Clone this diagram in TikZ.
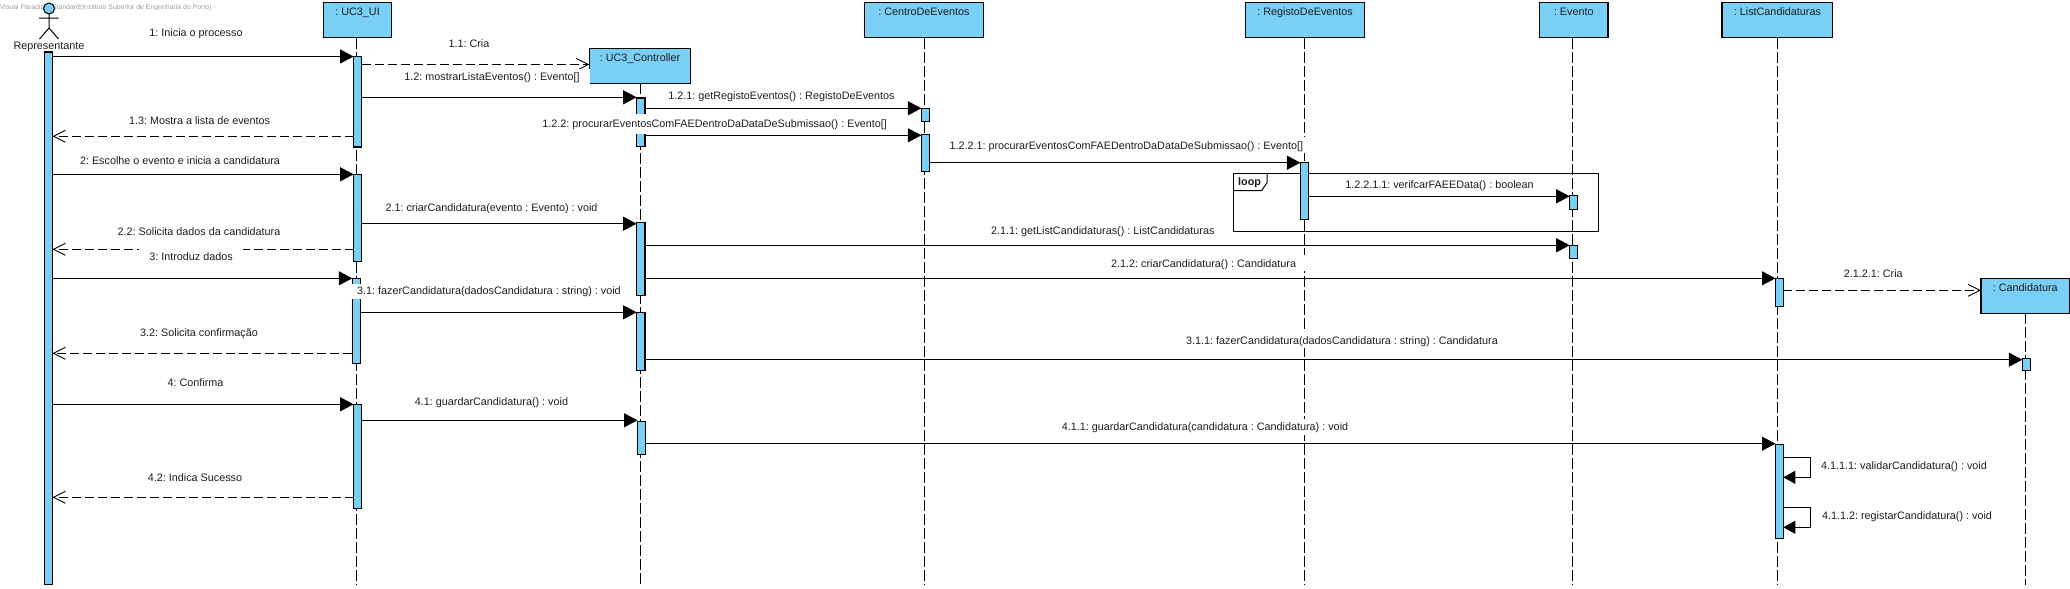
\documentclass[tikz,border=0pt]{standalone}
\usepackage{fontspec}
\setmainfont{Liberation Sans}
\frenchspacing
\usetikzlibrary{arrows.meta}
\definecolor{objblue}{RGB}{122,207,245}
\definecolor{txtc}{RGB}{30,30,30}
\tikzset{
  every node/.style={outer sep=0pt,font=\fontsize{10.8}{13}\selectfont,text=txtc},
  objbox/.style={draw=black,line width=1.2pt,fill=objblue,inner sep=0pt,text height=12.7pt,text depth=22.3pt,align=center},
  actbox/.style={draw=black,line width=1.1pt,fill=objblue,inner sep=0pt},
  lifeline/.style={draw=black,line width=1pt,dash pattern=on 11pt off 3pt},
  msg/.style={draw=black,line width=1.1pt,-{Triangle[length=13.5pt,width=14pt]}},
  selfmsg/.style={draw=black,line width=.9pt,-{Triangle[length=12pt,width=13pt]}},
  ret/.style={draw=black,line width=1.1pt,dash pattern=on 9pt off 4pt,-{Straight Barb[length=12pt,width=12pt,line width=.9pt]}},
  msglabel/.style={fill=white,inner xsep=10pt,inner ysep=0pt,minimum height=16pt,text height=8.8pt,text depth=1.2pt},
  freelabel/.style={inner sep=0pt,text height=8.8pt,text depth=1.2pt},
}
\newcommand{\actv}[5]{%
  \pgfmathsetmacro{\actcx}{(#2+#3)/2}\pgfmathsetmacro{\actcy}{(#4+#5)/2}%
  \pgfmathsetmacro{\actw}{#3-#2}\pgfmathsetmacro{\acth}{#5-#4}%
  \node[actbox,minimum width=\actw pt,minimum height=\acth pt] (#1) at (\actcx,\actcy) {};}
\begin{document}
\begin{tikzpicture}[x=1pt,y=-1pt]
\useasboundingbox (0,0) rectangle (2070,589);
% watermark
\node[inner sep=0pt,anchor=west,text=black!38,font=\fontsize{6.9}{9}\selectfont] (wm) at (0,7.5) {Visual Paradigm Standard(Instituto Superior de Engenharia do Porto)};
% actor
\node[draw=black,line width=1pt,fill=objblue,circle,inner sep=0pt,minimum size=11pt] (head) at (49,8.5) {};
\coordinate (hip) at (49,28);
\coordinate (armL) at (39,18); \coordinate (armR) at (58.5,18);
\coordinate (legL) at (39.5,39); \coordinate (legR) at (58.5,39);
\draw[line width=1pt] (head.south) -- (hip) (armL) -- (armR) (legL) -- (hip) -- (legR);
\node[freelabel] (rep) at (49,45.5) {Representante};
% objects
\node[objbox,minimum width=67.8pt] (ui) at (357.6,20) {: UC3\_UI};
\node[objbox,minimum width=101.3pt] (ctrl) at (640,65.8) {: UC3\_Controller};
\node[objbox,minimum width=119.2pt] (centro) at (923.9,20) {: CentroDeEventos};
\node[objbox,minimum width=119.2pt] (registo) at (1305.1,20) {: RegistoDeEventos};
\node[objbox,minimum width=68.5pt] (evento) at (1573.8,20) {: Evento};
\node[objbox,minimum width=110.8pt] (listc) at (1777.4,20) {: ListCandidaturas};
\node[objbox,minimum width=88.7pt] (cand) at (2025.3,295.8) {: Candidatura};
% lifelines
\coordinate (uiEnd) at (356,585);
\coordinate (ctrlEnd) at (640.6,585);
\coordinate (centroEnd) at (924.5,585);
\coordinate (registoEnd) at (1304.5,585);
\coordinate (eventoEnd) at (1572.7,585);
\coordinate (listcEnd) at (1777.3,585);
\coordinate (candEnd) at (2025.3,585);
\draw[lifeline] (uiEnd |- ui.south) -- (uiEnd);
\draw[lifeline] (ctrlEnd |- ctrl.south) -- (ctrlEnd);
\draw[lifeline] (centroEnd |- centro.south) -- (centroEnd);
\draw[lifeline] (registoEnd |- registo.south) -- (registoEnd);
\draw[lifeline] (eventoEnd |- evento.south) -- (eventoEnd);
\draw[lifeline] (listcEnd |- listc.south) -- (listcEnd);
\draw[lifeline] (candEnd |- cand.south) -- (candEnd);
% loop frame
\node[draw=black,line width=1pt,inner sep=0pt,minimum width=364.5pt,minimum height=58pt] (loopf) at (1415.75,202.3) {};
\coordinate (tabA) at (1267,173.3); \coordinate (tabB) at (1267,182.7);
\coordinate (tabC) at (1261.6,190.7); \coordinate (tabD) at (1233.5,190.7);
\draw[line width=1pt] (tabA) -- (tabB) -- (tabC) -- (tabD);
\node[freelabel,font=\fontsize{10.8}{13}\selectfont\bfseries] (looplbl) at (1249.6,181.2) {loop};
% activations
\actv{repA}{44.5}{52.5}{52}{584.7}
\actv{uiA}{353.6}{361.6}{56.5}{147}
\actv{uiB}{353.6}{361.6}{174.3}{261.3}
\actv{uiC}{352.3}{360.7}{278.3}{363.5}
\actv{uiD}{353.6}{361.6}{404.3}{508.3}
\actv{ctA}{636.6}{645}{98}{146.7}
\actv{ctB}{636.6}{645}{222.5}{295.3}
\actv{ctC}{636.6}{645}{312.3}{370.3}
\actv{ctD}{637.5}{645.5}{421.3}{454.3}
\actv{ceA}{921.4}{929.5}{108.3}{121.3}
\actv{ceB}{921.4}{929.5}{134.3}{171.7}
\actv{reA}{1300.4}{1308.5}{162.7}{219.3}
\actv{evA}{1569.7}{1577.9}{195.3}{209.3}
\actv{evB}{1569.7}{1577.9}{245.3}{258.3}
\actv{lcA}{1775.5}{1783.3}{278.3}{306.3}
\actv{lcB}{1775.5}{1783.3}{444.3}{538.3}
\actv{caA}{2022.3}{2030.5}{358.3}{370.3}
% messages
\draw[msg] (repA.east |- 0,56.5) -- (uiA.west |- 0,56.5);
\draw[ret] (uiA.east |- 0,64.5) -- (ctrl.west |- 0,64.5);
\draw[msg] (uiA.east |- 0,97.3) -- (ctA.west |- 0,97.3);
\draw[msg] (ctA.east |- 0,108.3) -- (ceA.west |- 0,108.3);
\draw[msg] (ctA.east |- 0,135.3) -- (ceB.west |- 0,135.3);
\draw[ret] (uiA.west |- 0,136.3) -- (repA.east |- 0,136.3);
\draw[msg] (ceB.east |- 0,162.7) -- (reA.west |- 0,162.7);
\draw[msg] (repA.east |- 0,174.3) -- (uiB.west |- 0,174.3);
\draw[msg] (reA.east |- 0,196.3) -- (evA.west |- 0,196.3);
\draw[msg] (uiB.east |- 0,223.7) -- (ctB.west |- 0,223.7);
\draw[msg] (ctB.east |- 0,245.3) -- (evB.west |- 0,245.3);
\draw[ret] (uiB.west |- 0,249.3) -- (repA.east |- 0,249.3);
\draw[msg] (repA.east |- 0,278.3) -- (uiC.west |- 0,278.3);
\draw[msg] (ctB.east |- 0,278.3) -- (lcA.west |- 0,278.3);
\draw[ret] (lcA.east |- 0,290.3) -- (cand.west |- 0,290.3);
\draw[msg] (uiC.east |- 0,312.3) -- (ctC.west |- 0,312.3);
\draw[ret] (uiC.west |- 0,353.3) -- (repA.east |- 0,353.3);
\draw[msg] (ctC.east |- 0,359.7) -- (caA.west |- 0,359.7);
\draw[msg] (repA.east |- 0,404.3) -- (uiD.west |- 0,404.3);
\draw[msg] (uiD.east |- 0,420.3) -- (ctD.west |- 0,420.3);
\draw[msg] (ctD.east |- 0,443.7) -- (lcB.west |- 0,443.7);
\draw[ret] (uiD.west |- 0,497.3) -- (repA.east |- 0,497.3);
\coordinate (selfA) at (1810.8,457.3); \coordinate (selfB) at (1810.8,477.3);
\coordinate (selfC) at (1810.8,507.3); \coordinate (selfD) at (1810.8,527.3);
\draw[selfmsg] (lcB.east |- selfA) -- (selfA) -- (selfB) -- (lcB.east |- selfB);
\draw[selfmsg] (lcB.east |- selfC) -- (selfC) -- (selfD) -- (lcB.east |- selfD);
% labels
\node[msglabel] (m1) at (196,33) {1: Inicia o processo};
\node[msglabel] (m11) at (469,44) {1.1: Cria};
\node[msglabel] (m12) at (492,77) {1.2: mostrarListaEventos() : Evento[]};
\node[msglabel] (m121) at (781.5,95.3) {1.2.1: getRegistoEventos() : RegistoDeEventos};
\node[msglabel,minimum height=20pt] (m122) at (714.7,124) {1.2.2: procurarEventosComFAEDentroDaDataDeSubmissao() : Evento[]};
\node[msglabel] (m13) at (199.6,120.3) {1.3: Mostra a lista de eventos};
\node[msglabel,inner xsep=3pt] (m1221) at (1126.3,145.3) {1.2.2.1: procurarEventosComFAEDentroDaDataDeSubmissao() : Evento[]};
\node[msglabel] (m12211) at (1439.5,184.3) {1.2.2.1.1: verifcarFAEEData() : boolean};
\node[msglabel] (m2) at (180,160.3) {2: Escolhe o evento e inicia a candidatura};
\node[msglabel] (m21) at (491.5,207.3) {2.1: criarCandidatura(evento : Evento) : void};
\node[msglabel] (m22) at (199,231.3) {2.2: Solicita dados da candidatura};
\node[msglabel] (m211) at (1102.8,230.3) {2.1.1: getListCandidaturas() : ListCandidaturas};
\node[msglabel,minimum height=17pt] (m3) at (191,257) {3: Introduz dados};
\node[msglabel] (m212) at (1203.6,263.3) {2.1.2: criarCandidatura() : Candidatura};
\node[msglabel] (m2121) at (1873.3,273.3) {2.1.2.1: Cria};
\node[msglabel,inner xsep=6pt,minimum height=15pt] (m31) at (489,291) {3.1: fazerCandidatura(dadosCandidatura : string) : void};
\node[msglabel] (m32) at (199,332.3) {3.2: Solicita confirmação};
\node[msglabel] (m311) at (1342,340.3) {3.1.1: fazerCandidatura(dadosCandidatura : string) : Candidatura};
\node[msglabel] (m4) at (195.5,382.3) {4: Confirma};
\node[msglabel] (m41) at (491.5,401.3) {4.1: guardarCandidatura() : void};
\node[msglabel] (m411) at (1205,427) {4.1.1: guardarCandidatura(candidatura : Candidatura) : void};
\node[msglabel] (m42) at (195,477.3) {4.2: Indica Sucesso};
\node[msglabel,inner xsep=0pt] (m4111) at (1904,465.3) {4.1.1.1: validarCandidatura() : void};
\node[msglabel,inner xsep=0pt] (m4112) at (1907,515.3) {4.1.1.2: registarCandidatura() : void};
\end{tikzpicture}
\end{document}
